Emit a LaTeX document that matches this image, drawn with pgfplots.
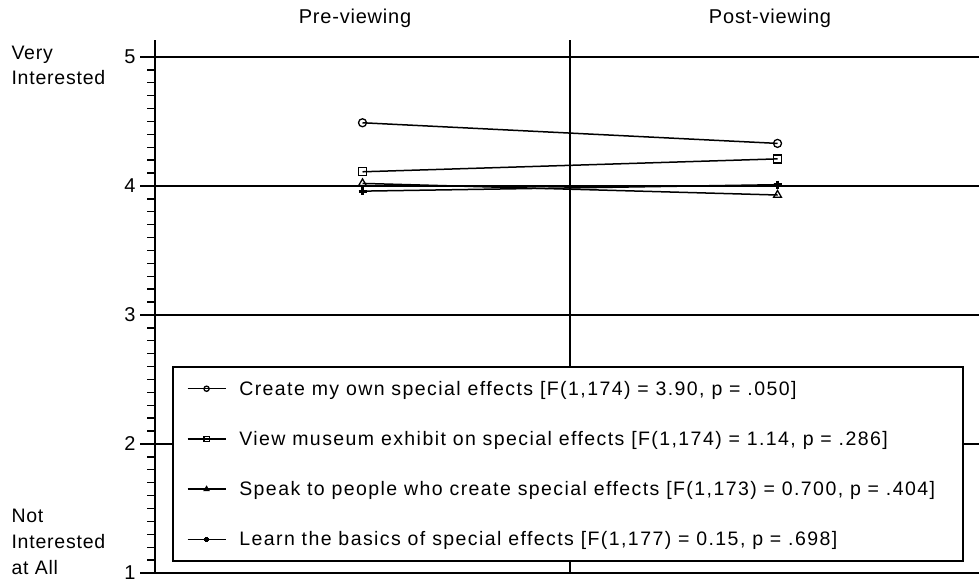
\documentclass[border=0pt]{standalone}
\usepackage{pgfplots}
\pgfplotsset{compat=1.18}
\usepackage{fontspec}
\setmainfont{Liberation Sans}
\newfontfamily\legfont{Liberation Sans}[LetterSpace=7.3]
\newfontfamily\labfont{Liberation Sans}[LetterSpace=4]
\begin{document}
\begin{tikzpicture}
\useasboundingbox (0,0) rectangle (979pt,579pt);
\begin{axis}[
  at={(155pt,6pt)}, anchor=south west,
  scale only axis, width=824pt, height=532.8pt,
  xmin=0.5, xmax=2.4855, ymin=1, ymax=5.13,
  axis x line=bottom, axis y line=left,
  axis line style={line width=1.6pt,-},
  xtick=\empty, ytick={1,2,3,4,5}, minor y tick num=9,
  ymajorgrids, grid style={line width=1.6pt, black, solid},
  major tick length=15pt, minor tick length=8pt, tick align=outside,
  tick style={line width=1.4pt, black},
  yticklabel style={font=\labfont\fontsize{20}{20}\selectfont, xshift=-1pt},
  /pgf/number format/assume math mode=true,
  clip=false,
  legend style={at={(axis cs:0.541,1.085)}, anchor=south west,
    draw=black, line width=1.6pt, fill=white,
    font=\legfont\fontsize{19.5}{19.5}\selectfont,
    row sep=30.6pt, column sep=11pt, inner xsep=14pt, inner ysep=12pt,
    cells={anchor=west}},
  legend image code/.code={\draw[mark repeat=2,mark phase=2,#1, mark size=2.6pt]
     plot coordinates {(0pt,0pt) (19pt,0pt) (38pt,0pt)};},
]
\draw[line width=1.6pt] (axis cs:1.5,1) -- (axis cs:1.5,5.13);
\addplot[black, line width=1.5pt, mark=o, mark size=4pt, mark options={line width=1.3pt, fill=white}]
  coordinates {(1,4.49) (2,4.33)};
\addlegendentry{Create my own special effects [F(1,174) = 3.90, p = .050]}
\addplot[black, line width=1.5pt, mark=square, mark size=4pt, mark options={line width=1.3pt, fill=white}]
  coordinates {(1,4.11) (2,4.21)};
\addlegendentry{View museum exhibit on special effects [F(1,174) = 1.14, p = .286]}
\addplot[black, line width=1.5pt, mark=triangle, mark size=4.5pt, mark options={line width=1.3pt, fill=white}]
  coordinates {(1,4.02) (2,3.93)};
\addlegendentry{Speak to people who create special effects [F(1,173) = 0.700, p = .404]\rule{12pt}{0pt}}
\addplot[black, line width=1.5pt, mark=+, mark size=4pt, mark options={line width=2.8pt}]
  coordinates {(1,3.96) (2,4.01)};
\addlegendentry{Learn the basics of special effects [F(1,177) = 0.15, p = .698]}
\node[font=\labfont\fontsize{20}{20}\selectfont] at (axis cs:0.982,5.302) {Pre-viewing};
\node[font=\labfont\fontsize{20}{20}\selectfont] at (axis cs:1.982,5.302) {Post-viewing};
\end{axis}
\node[anchor=west, align=left, font=\labfont\fontsize{19.5}{25}\selectfont] at (8pt,513.5pt) {Very\\Interested};
\node[anchor=west, align=left, font=\labfont\fontsize{19.5}{26}\selectfont] at (8pt,37pt) {Not\\Interested\\at All};
\end{tikzpicture}
\end{document}
